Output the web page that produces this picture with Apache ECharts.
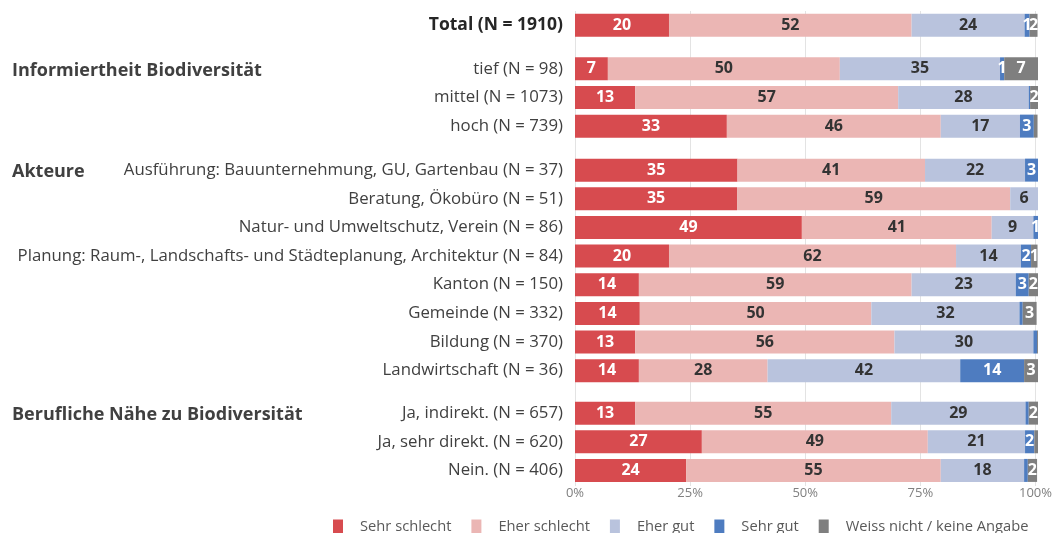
<!DOCTYPE html>
<html><head><meta charset="utf-8">
<script src="https://cdn.jsdelivr.net/npm/echarts@6/dist/echarts.min.js"></script>
<style>html,body{margin:0;padding:0;background:#fff}#c{width:1055px;height:533px}</style>
</head><body><div id="c"></div>
<script>
// ---- data ----
const groupTitles = ['', 'Informiertheit Biodiversität', 'Akteure', 'Berufliche Nähe zu Biodiversität'];
const catTotal = ['Total (N = 1910)'];
const catInfo = ['tief (N = 98)', 'mittel (N = 1073)', 'hoch (N = 739)'];
const catAkteure = ['Ausführung: Bauunternehmung, GU, Gartenbau (N = 37)', 'Beratung, Ökobüro (N = 51)', 'Natur- und Umweltschutz, Verein (N = 86)', 'Planung: Raum-, Landschafts- und Städteplanung, Architektur (N = 84)', 'Kanton (N = 150)', 'Gemeinde (N = 332)', 'Bildung (N = 370)', 'Landwirtschaft (N = 36)'];
const catNaehe = ['Ja, indirekt. (N = 657)', 'Ja, sehr direkt. (N = 620)', 'Nein. (N = 406)'];
const seriesNames = ['Sehr schlecht', 'Eher schlecht', 'Eher gut', 'Sehr gut', 'Weiss nicht / keine Angabe'];
// rows in order: Total, tief, mittel, hoch, 8 Akteure, 3 Nähe
const sehrSchlecht = [20.3, 7.1, 13, 32.8, 35.1, 35, 49, 20.3, 13.8, 14, 13, 13.8, 13, 27.4, 24];
const eherSchlecht = [52.4, 50.1, 56.8, 46.2, 40.5, 59, 41, 62, 58.9, 50, 56, 27.8, 55.3, 48.8, 55];
const eherGut = [24.4, 34.6, 28.2, 17.1, 21.6, 6, 9, 14, 22.5, 32, 30, 41.6, 29, 21, 18];
const sehrGut = [1.1, 0.9, 0.3, 3, 2.8, 0, 1, 2.2, 2.8, 0.7, 0.8, 13.8, 0.7, 2, 0.8];
const weissNicht = [1.7, 7.3, 2, 0.8, 0, 0, 0, 1.4, 2, 3, 0.3, 3, 2, 0.8, 2];
const xTicks = [0, 25, 50, 75, 100];

// ---- layout / style ----
const colors = ['#D74B4F', '#EBB6B4', '#B9C3DD', '#4E7CC0', '#7F7F7F'];
const labelColors = ['#fff', '#333', '#333', '#fff', '#fff'];
const FONT = 'Open Sans';
const rowH = 28.65;
const left = 575, right = 17;
const groups = [catTotal, catInfo, catAkteure, catNaehe];
const tops = [11, 54.5, 155.8, 398.8];
const allValues = [sehrSchlecht, eherSchlecht, eherGut, sehrGut, weissNicht];

const chart = echarts.init(document.getElementById('c'), null, {renderer: 'canvas'});
const grid = [], xAxis = [], yAxis = [], series = [], graphic = [];
let offset = 0;
groups.forEach((cats, g) => {
  grid.push({left: left, right: right, top: tops[g], height: cats.length * rowH});
  xAxis.push({type: 'value', gridIndex: g, min: 0, max: 100, show: false});
  yAxis.push({
    type: 'category', gridIndex: g, data: cats, inverse: true,
    axisLine: {show: false}, axisTick: {show: false},
    axisLabel: {color: g === 0 ? '#262626' : '#404040', fontSize: g === 0 ? 17.5 : 16.8, fontFamily: FONT,
      fontWeight: g === 0 ? 'bold' : 'normal', margin: 12}
  });
  allValues.forEach((vals, s) => {
    series.push({
      name: seriesNames[s], type: 'bar', stack: 'g' + g, xAxisIndex: g, yAxisIndex: g,
      barWidth: 23, data: vals.slice(offset, offset + cats.length),
      itemStyle: {color: colors[s]},
      label: {show: true, position: 'inside', color: labelColors[s], fontFamily: FONT,
        fontWeight: 'bold', fontSize: 16,
        formatter: p => (p.value >= 0.85 ? String(Math.round(p.value)) : '')},
      emphasis: {disabled: true}, animation: false
    });
  });
  if (groupTitles[g]) {
    graphic.push({type: 'text', left: 12, top: tops[g] + rowH / 2 - 7,
      style: {text: groupTitles[g], fill: '#404040', font: 'bold 18px "' + FONT + '"'}});
  }
  offset += cats.length;
});
// background grid carrying the continuous split lines and the percentage ticks
grid.push({left: left, right: right, top: 11, bottom: 533 - 486});
xAxis.push({type: 'value', gridIndex: 4, min: xTicks[0], max: xTicks[xTicks.length - 1], interval: 25,
  axisLine: {show: false}, axisTick: {show: false},
  splitLine: {show: true, lineStyle: {color: '#E3E3E3', width: 1}},
  axisLabel: {formatter: '{value}%', color: '#808080', fontSize: 13, fontFamily: FONT, margin: 1}});
yAxis.push({type: 'value', gridIndex: 4, show: false});
series.unshift({type: 'bar', xAxisIndex: 4, yAxisIndex: 4, data: [], silent: true});

chart.setOption({
  animation: false,
  textStyle: {fontFamily: FONT},
  grid, xAxis, yAxis, series, graphic,
  legend: {data: seriesNames, left: 333, top: 519, padding: 0, icon: 'rect', itemWidth: 10, itemHeight: 14,
    itemGap: 20, textStyle: {color: '#595959', fontSize: 14.7, fontFamily: FONT, padding: [0, 0, 0, 12]}}
});
</script></body></html>
